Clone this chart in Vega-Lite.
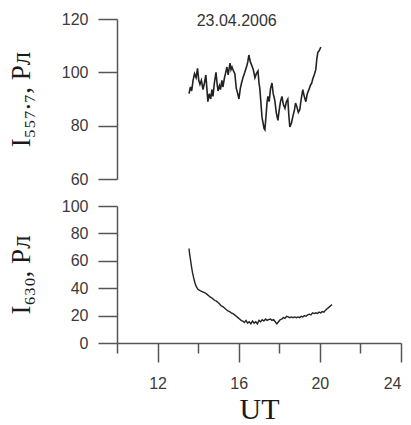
{
  "$schema": "https://vega.github.io/schema/vega-lite/v6.json",
  "padding": {"left": 7, "top": 11, "right": 5, "bottom": 0},
  "background": "white",
  "spacing": 11,
  "config": {
    "view": {"stroke": null},
    "axis": {
      "grid": false,
      "domainColor": "#555",
      "domainWidth": 1.5,
      "tickColor": "#555",
      "tickWidth": 1.5,
      "tickSize": 19,
      "labelFont": "Liberation Sans",
      "labelFontSize": 16,
      "labelColor": "#3a3a3a",
      "labelPadding": 10,
      "titleFont": "Liberation Serif",
      "titleFontSize": 27,
      "titleFontWeight": "normal",
      "titleColor": "#1a1a1a"
    }
  },
  "datasets": {
    "top": [
      {"ut": 13.55, "i": 92}, {"ut": 13.62, "i": 94.5}, {"ut": 13.68, "i": 93}, {"ut": 13.75, "i": 97},
      {"ut": 13.82, "i": 99.5}, {"ut": 13.9, "i": 98}, {"ut": 13.97, "i": 101.5}, {"ut": 14.03, "i": 97},
      {"ut": 14.09, "i": 95.5}, {"ut": 14.16, "i": 97}, {"ut": 14.24, "i": 93.5}, {"ut": 14.31, "i": 96},
      {"ut": 14.38, "i": 99}, {"ut": 14.43, "i": 94}, {"ut": 14.48, "i": 89}, {"ut": 14.55, "i": 92},
      {"ut": 14.62, "i": 90}, {"ut": 14.68, "i": 93.5}, {"ut": 14.73, "i": 91}, {"ut": 14.8, "i": 96},
      {"ut": 14.88, "i": 100}, {"ut": 14.93, "i": 96}, {"ut": 14.98, "i": 93}, {"ut": 15.05, "i": 95},
      {"ut": 15.1, "i": 93.5}, {"ut": 15.17, "i": 97}, {"ut": 15.22, "i": 94.5}, {"ut": 15.3, "i": 98},
      {"ut": 15.36, "i": 100}, {"ut": 15.42, "i": 102}, {"ut": 15.48, "i": 99}, {"ut": 15.57, "i": 103.5},
      {"ut": 15.62, "i": 101}, {"ut": 15.67, "i": 102}, {"ut": 15.74, "i": 100.5}, {"ut": 15.81, "i": 99.5},
      {"ut": 15.88, "i": 94}, {"ut": 15.95, "i": 92}, {"ut": 16.01, "i": 90}, {"ut": 16.08, "i": 94},
      {"ut": 16.14, "i": 96}, {"ut": 16.21, "i": 98}, {"ut": 16.3, "i": 100}, {"ut": 16.4, "i": 102.5},
      {"ut": 16.45, "i": 104}, {"ut": 16.5, "i": 106.5}, {"ut": 16.57, "i": 104}, {"ut": 16.65, "i": 102.5},
      {"ut": 16.72, "i": 101}, {"ut": 16.8, "i": 98}, {"ut": 16.87, "i": 99.5}, {"ut": 16.95, "i": 100.5},
      {"ut": 17.0, "i": 96}, {"ut": 17.04, "i": 94}, {"ut": 17.1, "i": 88}, {"ut": 17.15, "i": 83},
      {"ut": 17.2, "i": 81}, {"ut": 17.25, "i": 79}, {"ut": 17.29, "i": 78.5}, {"ut": 17.35, "i": 84},
      {"ut": 17.4, "i": 89}, {"ut": 17.44, "i": 91}, {"ut": 17.5, "i": 89}, {"ut": 17.57, "i": 94},
      {"ut": 17.64, "i": 96}, {"ut": 17.7, "i": 92}, {"ut": 17.78, "i": 89.5}, {"ut": 17.85, "i": 85},
      {"ut": 17.93, "i": 82}, {"ut": 18.0, "i": 86}, {"ut": 18.06, "i": 89}, {"ut": 18.13, "i": 91},
      {"ut": 18.2, "i": 88}, {"ut": 18.28, "i": 86.5}, {"ut": 18.35, "i": 89}, {"ut": 18.42, "i": 90},
      {"ut": 18.47, "i": 84}, {"ut": 18.52, "i": 79.5}, {"ut": 18.6, "i": 81}, {"ut": 18.67, "i": 83.5},
      {"ut": 18.75, "i": 86}, {"ut": 18.8, "i": 88.5}, {"ut": 18.87, "i": 87}, {"ut": 18.94, "i": 85},
      {"ut": 19.01, "i": 86}, {"ut": 19.08, "i": 90}, {"ut": 19.16, "i": 93.5}, {"ut": 19.23, "i": 91},
      {"ut": 19.31, "i": 89}, {"ut": 19.38, "i": 92}, {"ut": 19.46, "i": 93.5}, {"ut": 19.53, "i": 95},
      {"ut": 19.6, "i": 96}, {"ut": 19.65, "i": 97.5}, {"ut": 19.72, "i": 99}, {"ut": 19.8, "i": 101},
      {"ut": 19.85, "i": 105}, {"ut": 19.9, "i": 107.5}, {"ut": 19.96, "i": 108}, {"ut": 20.05, "i": 109.5}
    ],
    "bottom": [
      {"ut": 13.55, "i": 69}, {"ut": 13.58, "i": 65}, {"ut": 13.62, "i": 61}, {"ut": 13.67, "i": 56},
      {"ut": 13.72, "i": 51.5}, {"ut": 13.78, "i": 47.5}, {"ut": 13.84, "i": 44}, {"ut": 13.9, "i": 41.5},
      {"ut": 13.97, "i": 39.5}, {"ut": 14.05, "i": 38.5}, {"ut": 14.12, "i": 38}, {"ut": 14.2, "i": 37.5},
      {"ut": 14.28, "i": 37}, {"ut": 14.36, "i": 36.5}, {"ut": 14.44, "i": 35.5}, {"ut": 14.52, "i": 34.5},
      {"ut": 14.6, "i": 33.5}, {"ut": 14.67, "i": 33}, {"ut": 14.75, "i": 32}, {"ut": 14.83, "i": 31},
      {"ut": 14.9, "i": 30.5}, {"ut": 14.98, "i": 29.5}, {"ut": 15.06, "i": 28.5}, {"ut": 15.14, "i": 27},
      {"ut": 15.22, "i": 26.5}, {"ut": 15.3, "i": 25.5}, {"ut": 15.38, "i": 24.5}, {"ut": 15.47, "i": 23.5},
      {"ut": 15.55, "i": 23}, {"ut": 15.63, "i": 22}, {"ut": 15.71, "i": 21.5}, {"ut": 15.8, "i": 20.5},
      {"ut": 15.88, "i": 19.5}, {"ut": 15.96, "i": 18.5}, {"ut": 16.04, "i": 17.5}, {"ut": 16.12, "i": 16.5},
      {"ut": 16.2, "i": 16}, {"ut": 16.28, "i": 15}, {"ut": 16.36, "i": 16.5}, {"ut": 16.44, "i": 14.5},
      {"ut": 16.52, "i": 15.5}, {"ut": 16.6, "i": 14}, {"ut": 16.68, "i": 16}, {"ut": 16.76, "i": 14.5},
      {"ut": 16.84, "i": 15.5}, {"ut": 16.92, "i": 14}, {"ut": 17.0, "i": 16.5}, {"ut": 17.08, "i": 15.5},
      {"ut": 17.16, "i": 17}, {"ut": 17.24, "i": 16}, {"ut": 17.32, "i": 17.5}, {"ut": 17.4, "i": 16.5},
      {"ut": 17.48, "i": 17}, {"ut": 17.56, "i": 17.5}, {"ut": 17.64, "i": 16.5}, {"ut": 17.72, "i": 17},
      {"ut": 17.8, "i": 15.5}, {"ut": 17.88, "i": 14}, {"ut": 17.96, "i": 15.5}, {"ut": 18.04, "i": 17},
      {"ut": 18.12, "i": 17.5}, {"ut": 18.2, "i": 18.5}, {"ut": 18.28, "i": 18}, {"ut": 18.36, "i": 19.5},
      {"ut": 18.44, "i": 19}, {"ut": 18.52, "i": 18.5}, {"ut": 18.6, "i": 19}, {"ut": 18.68, "i": 18.5},
      {"ut": 18.76, "i": 19}, {"ut": 18.84, "i": 18.5}, {"ut": 18.92, "i": 19}, {"ut": 19.0, "i": 18.5},
      {"ut": 19.08, "i": 19.5}, {"ut": 19.16, "i": 19}, {"ut": 19.24, "i": 20}, {"ut": 19.32, "i": 19.5},
      {"ut": 19.4, "i": 20.5}, {"ut": 19.48, "i": 21}, {"ut": 19.56, "i": 20.5}, {"ut": 19.64, "i": 22},
      {"ut": 19.72, "i": 21.5}, {"ut": 19.8, "i": 22}, {"ut": 19.88, "i": 21.5}, {"ut": 19.96, "i": 22.5},
      {"ut": 20.04, "i": 22}, {"ut": 20.12, "i": 23}, {"ut": 20.2, "i": 22.5}, {"ut": 20.28, "i": 24},
      {"ut": 20.36, "i": 25}, {"ut": 20.44, "i": 26}, {"ut": 20.52, "i": 27}, {"ut": 20.6, "i": 28}
    ],
    "label": [{"ut": 15.9, "i": 119.2, "text": "23.04.2006"}]
  },
  "vconcat": [
    {
      "width": 284,
      "height": 160,
      "layer": [
        {
          "data": {"name": "top"},
          "mark": {"type": "line", "color": "#222", "strokeWidth": 1.6},
          "encoding": {
            "x": {"field": "ut", "type": "quantitative", "scale": {"domain": [10, 24], "nice": false}, "axis": null},
            "y": {
              "field": "i", "type": "quantitative",
              "scale": {"domain": [60, 120], "nice": false, "zero": false},
              "axis": {"values": [60, 80, 100, 120], "title": "I₅₅₇.₇, Рл", "titlePadding": 26, "minExtent": 56, "maxExtent": 56}
            }
          }
        },
        {
          "data": {"name": "label"},
          "mark": {"type": "text", "font": "Liberation Sans", "fontSize": 16, "color": "#333", "baseline": "middle"},
          "encoding": {
            "x": {"field": "ut", "type": "quantitative"},
            "y": {"field": "i", "type": "quantitative"},
            "text": {"field": "text"}
          }
        }
      ]
    },
    {
      "width": 284,
      "height": 137,
      "data": {"name": "bottom"},
      "mark": {"type": "line", "color": "#222", "strokeWidth": 1.4},
      "encoding": {
        "x": {
          "field": "ut", "type": "quantitative",
          "scale": {"domain": [10, 24], "nice": false},
          "axis": {
            "values": [10, 12, 14, 16, 18, 20, 22, 24],
            "tickSize": {"condition": {"test": "datum.value % 4 == 0", "value": 19}, "value": 10},
            "labelExpr": "datum.value % 4 == 0 ? datum.label : ''",
            "labelPadding": 13,
            "title": "UT",
            "titleFont": "Liberation Serif",
            "titleFontSize": 30,
            "titlePadding": 3
          }
        },
        "y": {
          "field": "i", "type": "quantitative",
          "scale": {"domain": [0, 100], "nice": false},
          "axis": {"values": [0, 20, 40, 60, 80, 100], "title": "I₆₃₀, Рл", "titlePadding": 26, "minExtent": 56, "maxExtent": 56}
        }
      }
    }
  ]
}
